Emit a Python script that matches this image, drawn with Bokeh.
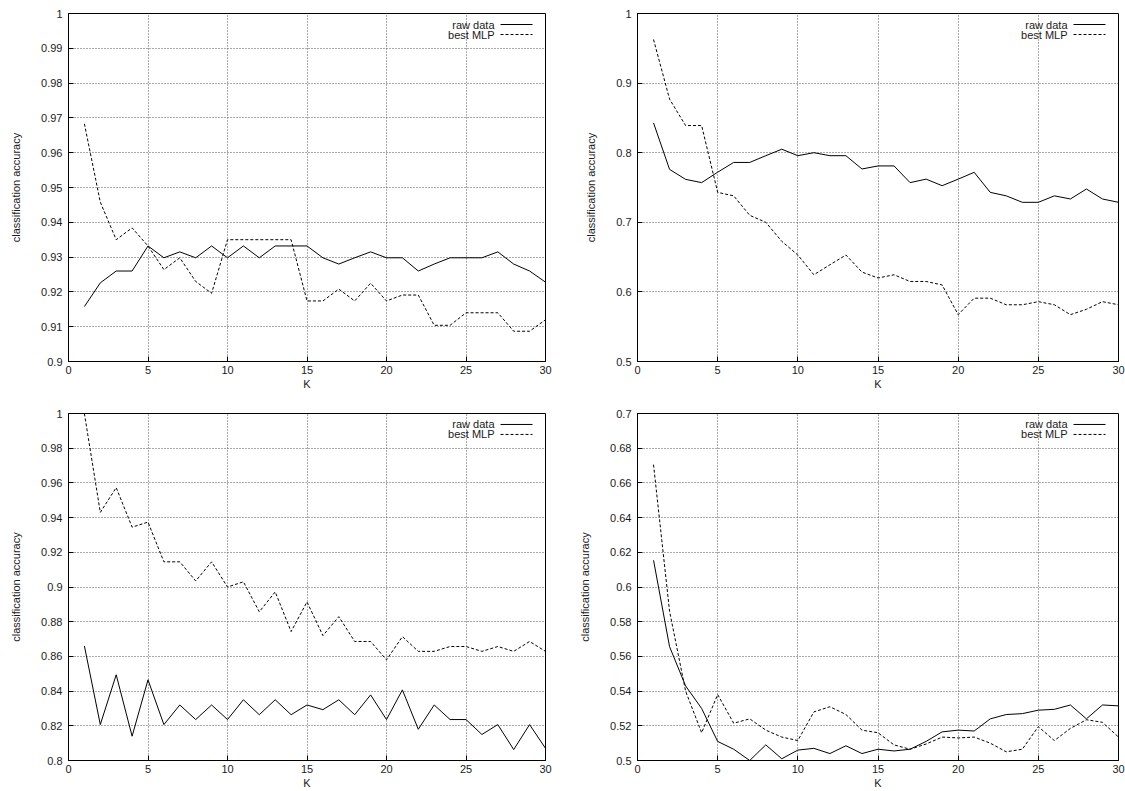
from bokeh.plotting import figure
from bokeh.models import FixedTicker, Label, Arrow, Range1d
from bokeh.layouts import gridplot
from bokeh.embed import file_html
from bokeh.resources import INLINE

# ---------------- data ----------------
K = list(range(1, 31))

# top-left panel
raw_tl = [0.9158, 0.9226, 0.9260, 0.9260, 0.9332, 0.9298, 0.9315, 0.9298, 0.9332, 0.9298,
          0.9332, 0.9298, 0.9332, 0.9332, 0.9332, 0.9298, 0.9280, 0.9298, 0.9315, 0.9298,
          0.9298, 0.9260, 0.9280, 0.9298, 0.9298, 0.9298, 0.9315, 0.9280, 0.9260, 0.9228]
mlp_tl = [0.9683, 0.9458, 0.9350, 0.9384, 0.9332, 0.9264, 0.9298, 0.9230, 0.9196, 0.9350,
          0.9350, 0.9350, 0.9350, 0.9350, 0.9174, 0.9174, 0.9208, 0.9174, 0.9225, 0.9174,
          0.9191, 0.9191, 0.9104, 0.9104, 0.9140, 0.9140, 0.9140, 0.9087, 0.9087, 0.9120]

# top-right panel
raw_tr = [0.8428, 0.7760, 0.7617, 0.7570, 0.7720, 0.7860, 0.7860, 0.7957, 0.8050, 0.7957,
          0.8000, 0.7957, 0.7957, 0.7766, 0.7810, 0.7810, 0.7570, 0.7620, 0.7526, 0.7620,
          0.7718, 0.7430, 0.7380, 0.7287, 0.7287, 0.7380, 0.7335, 0.7478, 0.7335, 0.7287]
mlp_tr = [0.9626, 0.8770, 0.8390, 0.8390, 0.7430, 0.7380, 0.7100, 0.7000, 0.6726, 0.6530,
          0.6246, 0.6390, 0.6530, 0.6285, 0.6200, 0.6246, 0.6150, 0.6150, 0.6100, 0.5673,
          0.5910, 0.5910, 0.5815, 0.5815, 0.5860, 0.5815, 0.5673, 0.5750, 0.5860, 0.5815]

# bottom-left panel
raw_bl = [0.8660, 0.8207, 0.8494, 0.8140, 0.8465, 0.8207, 0.8320, 0.8236, 0.8320, 0.8236,
          0.8350, 0.8264, 0.8350, 0.8264, 0.8320, 0.8293, 0.8350, 0.8264, 0.8378, 0.8236,
          0.8407, 0.8180, 0.8320, 0.8236, 0.8236, 0.8150, 0.8207, 0.8063, 0.8207, 0.8070]
mlp_bl = [1.0000, 0.9430, 0.9573, 0.9345, 0.9374, 0.9145, 0.9145, 0.9035, 0.9145, 0.9000,
          0.9030, 0.8857, 0.8972, 0.8743, 0.8914, 0.8720, 0.8829, 0.8686, 0.8686, 0.8580,
          0.8714, 0.8629, 0.8629, 0.8657, 0.8657, 0.8629, 0.8657, 0.8629, 0.8686, 0.8629]

# bottom-right panel
raw_br = [0.6154, 0.5656, 0.5430, 0.5300, 0.5110, 0.5065, 0.5000, 0.5090, 0.5010, 0.5060,
          0.5070, 0.5040, 0.5085, 0.5040, 0.5065, 0.5055, 0.5065, 0.5110, 0.5165, 0.5175,
          0.5170, 0.5240, 0.5265, 0.5270, 0.5290, 0.5295, 0.5320, 0.5240, 0.5320, 0.5315]
mlp_br = [0.6705, 0.5860, 0.5400, 0.5160, 0.5380, 0.5215, 0.5240, 0.5175, 0.5135, 0.5115,
          0.5280, 0.5310, 0.5265, 0.5175, 0.5160, 0.5090, 0.5065, 0.5095, 0.5135, 0.5130,
          0.5135, 0.5100, 0.5050, 0.5065, 0.5195, 0.5115, 0.5185, 0.5235, 0.5220, 0.5135]

series_names = ["raw data", "best MLP"]

x_ticks = [0, 5, 10, 15, 20, 25, 30]
x_tick_labels = ["0", "5", "10", "15", "20", "25", "30"]

y_ticks_tl = [0.9, 0.91, 0.92, 0.93, 0.94, 0.95, 0.96, 0.97, 0.98, 0.99, 1.0]
y_labels_tl = ["0.9", "0.91", "0.92", "0.93", "0.94", "0.95", "0.96", "0.97", "0.98", "0.99", "1"]

y_ticks_tr = [0.5, 0.6, 0.7, 0.8, 0.9, 1.0]
y_labels_tr = ["0.5", "0.6", "0.7", "0.8", "0.9", "1"]

y_ticks_bl = [0.8, 0.82, 0.84, 0.86, 0.88, 0.9, 0.92, 0.94, 0.96, 0.98, 1.0]
y_labels_bl = ["0.8", "0.82", "0.84", "0.86", "0.88", "0.9", "0.92", "0.94", "0.96", "0.98", "1"]

y_ticks_br = [0.5, 0.52, 0.54, 0.56, 0.58, 0.6, 0.62, 0.64, 0.66, 0.68, 0.7]
y_labels_br = ["0.5", "0.52", "0.54", "0.56", "0.58", "0.6", "0.62", "0.64", "0.66", "0.68", "0.7"]

x_title = "K"
y_title = "classification accuracy"

# ---------------- styling ----------------
FONT = "Liberation Sans"
FS = "11px"
TXT = "#1a1a1a"
FRAME_H = 348


def make_panel(raw, mlp, yticks, ylabels, width, height, bl, br, bt, bb):
    y0, y1 = yticks[0], yticks[-1]
    x0, x1 = x_ticks[0], x_ticks[-1]
    frame_w = width - bl - br
    p = figure(width=width, height=height,
               x_range=Range1d(x0, x1), y_range=Range1d(y0, y1),
               output_backend="svg", toolbar_location=None,
               min_border_left=bl, min_border_right=br,
               min_border_top=bt, min_border_bottom=bb)
    p.background_fill_color = "white"
    p.border_fill_color = "white"
    p.outline_line_color = "black"
    p.outline_line_width = 1
    p.outline_line_alpha = 1

    xt = FixedTicker(ticks=x_ticks)
    yt = FixedTicker(ticks=yticks)
    p.xaxis.ticker = xt
    p.yaxis.ticker = yt
    p.xgrid.ticker = xt
    p.ygrid.ticker = yt
    p.xaxis.major_label_overrides = dict(zip(x_ticks, x_tick_labels))
    p.yaxis.major_label_overrides = dict(zip(yticks, ylabels))

    for ax in (p.xaxis[0], p.yaxis[0]):
        ax.major_tick_in = 5
        ax.major_tick_out = 0
        ax.minor_tick_line_color = None
        ax.axis_line_color = "black"
        ax.major_tick_line_color = "black"
        ax.major_label_text_font = FONT
        ax.major_label_text_font_size = FS
        ax.major_label_text_color = TXT
        ax.axis_label_text_font = FONT
        ax.axis_label_text_font_size = FS
        ax.axis_label_text_font_style = "normal"
        ax.axis_label_text_color = TXT
    p.xaxis.axis_label = x_title
    p.yaxis.axis_label = y_title
    p.xaxis.major_label_standoff = 4
    p.xaxis.axis_label_standoff = 1
    p.yaxis.major_label_standoff = 6
    p.yaxis.axis_label_standoff = 16

    for g in (p.xgrid[0], p.ygrid[0]):
        g.grid_line_color = "#555555"
        g.grid_line_dash = "1 2"
        g.grid_line_width = 1

    p.line(K, raw, line_color="black", line_width=1)
    p.line(K, mlp, line_color="black", line_width=1, line_dash="3 2")

    # gnuplot-style key: text on the left, sample on the right
    dx = (x1 - x0) / frame_w
    dy = (y1 - y0) / FRAME_H
    for i, (name, dash) in enumerate(zip(series_names, ["solid", "3 2"])):
        yy = y1 - (11 + 10 * i) * dy
        p.add_layout(Label(x=x1 - 51 * dx, y=yy, text=name, text_align="right",
                           text_baseline="middle", text_font=FONT, text_font_size=FS,
                           text_color=TXT))
        p.add_layout(Arrow(end=None, x_start=x1 - 45 * dx, y_start=yy,
                           x_end=x1 - 13 * dx, y_end=yy, line_color="black",
                           line_width=1, line_dash=dash))
    return p


p_tl = make_panel(raw_tl, mlp_tl, y_ticks_tl, y_labels_tl, 575, 395, 68, 30, 13, 34)
p_tr = make_panel(raw_tr, mlp_tr, y_ticks_tr, y_labels_tr, 550, 395, 62, 7, 13, 34)
p_bl = make_panel(raw_bl, mlp_bl, y_ticks_bl, y_labels_bl, 575, 396, 68, 30, 18, 30)
p_br = make_panel(raw_br, mlp_br, y_ticks_br, y_labels_br, 550, 396, 62, 7, 18, 30)

grid = gridplot([[p_tl, p_tr], [p_bl, p_br]], toolbar_location=None)

open("out.html", "w").write(file_html(grid, INLINE))
